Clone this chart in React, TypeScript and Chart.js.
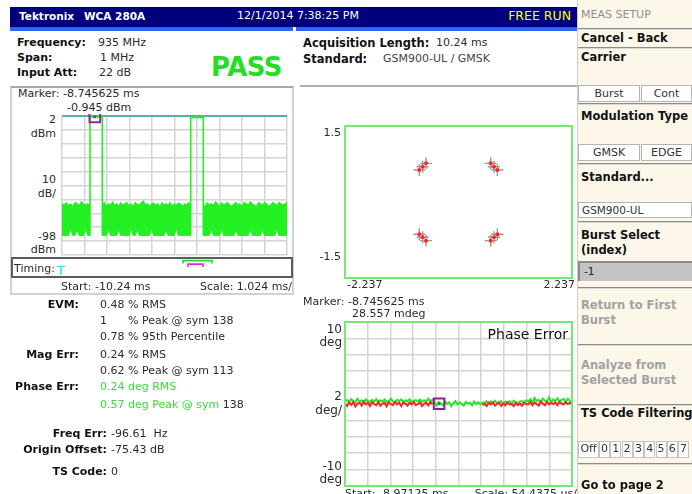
import React, { useEffect, useRef } from "react";
import { Chart, registerables } from "chart.js";

Chart.register(...registerables);

/* ---------------- data: power vs time (ms / dBm) ---------------- */
const powerTimeTicks = [-10.24, -9.216, -8.192, -7.168, -6.144, -5.12, -4.096, -3.072, -2.048, -1.024, 0];
const powerLevelTicks = [-98, -88, -78, -68, -58, -48, -38, -28, -18, -8, 2];
const powerAxisText = [["2", "dBm"], ["10", "dB/"], ["-98", "dBm"]];
const noiseStart = [-10.24, -8.406, -3.81];
const noiseEnd = [-8.966, -4.383, 0];
const noiseTop1 = [-61, -62, -60, -62.5, -61, -63, -60, -61, -62, -59.5, -61, -62, -61, -62];
const noiseTop2 = [-62, -60, -63, -61, -62, -59.5, -62, -61, -63, -60, -62, -61, -60, -62.5, -61, -63, -60, -61.5, -62, -60, -59, -62, -61, -63, -61, -60.5, -62, -61, -63, -60, -62, -61, -62, -60, -63, -61, -62, -60.5, -61, -63, -61, -62, -60, -62];
const noiseTop3 = [-61, -63, -60, -62, -61, -62, -59.5, -61, -63, -60, -62, -61, -60, -62, -63, -61, -60, -62, -61, -63, -60, -61, -62, -59.5, -61, -62, -63, -60, -61, -62, -60, -61, -63, -62, -60, -61, -62, -60, -61, -62, -61, -60];
const noiseLow1 = [-84, -84, -84, -84, -79, -84, -84, -80, -84, -84, -84, -79.5, -84, -84];
const noiseLow2 = [-84, -84, -84, -79, -84, -84, -84, -84, -80, -84, -84, -84, -84, -84, -79, -84, -84, -80, -84, -84, -84, -84, -84, -84, -79.5, -84, -84, -84, -84, -84, -84, -80, -84, -84, -84, -84, -79, -84, -84, -84, -84, -84, -84, -84];
const noiseLow3 = [-84, -84, -84, -84, -80, -84, -84, -84, -84, -79, -84, -84, -84, -84, -84, -84, -80, -84, -84, -84, -84, -84, -84, -79.5, -84, -84, -84, -84, -84, -80, -84, -84, -84, -84, -84, -84, -79, -84, -84, -84, -84, -84];
const burstStart = [-8.966, -4.383];
const burstEnd = [-8.406, -3.81];
const burstTop = [1.4, 1.0];
const burstFloor = [-84, -84];
const powerMarkerTime = [-8.745625];
const powerMarkerLevel = [1.4];

/* ---------------- data: timing strip ---------------- */
const timingGreen = [-4.733, -3.413];
const timingMagenta = [-4.506, -3.823];

/* ---------------- data: constellation ---------------- */
const constI = [-0.64, -0.706, -0.773, 0.635, 0.7, 0.766, -0.773, -0.706, -0.64, 0.635, 0.7, 0.766];
const constQ = [0.763, 0.697, 0.631, 0.763, 0.697, 0.631, -0.637, -0.696, -0.763, -0.763, -0.696, -0.637];
const constXRange = [-2.237, 2.237];
const constYRange = [-1.5, 1.5];

/* ---------------- data: phase error (ms / deg) ---------------- */
const phaseStart = -8.97125;
const phaseDiv = 0.0544375;
const phaseLevelTicks = [-10, -8, -6, -4, -2, 0, 2, 4, 6, 8, 10];
const phaseGreen = [
  0.3, 0.5, 0.2, 0.6, 0.35, 0.25, 0.65, 0.3, 0.45, 0.2,
  0.55, 0.35, 0.25, 0.5, 0.3, 0.6, 0.2, 0.45, 0.3, 0.55,
  0.25, 0.35, 0.65, 0.3, 0.2, 0.5, 0.35, 0.55, 0.25, 0.45,
  0.3, 0.6, 0.2, 0.35, 0.5, 0.3, 0.55, 0.25, 0.45, 0.3,
  0.65, 0.35, 0.5,
  0.15, -0.2, 0.25, 0.05, -0.15, 0.3, 0.0, 0.2, -0.25, 0.1, 0.35, -0.05, 0.2, 0.0, -0.2, 0.25, 0.05, 0.15, -0.15, 0.3, 0.0, 0.2, -0.05,
  0.2, 0.1, 0.35, 0.05, 0.3, 0.15, 0.4, 0.1, 0.25, 0.35, 0.0, 0.3, 0.15, 0.35, 0.1, 0.4, 0.2, 0.05, 0.3, 0.35, 0.15, 0.45,
  0.3, 0.6, 0.2, 0.75, 0.35, 0.5, 0.25, 0.65, 0.4, 0.3, 0.8, 0.2, 0.55, 0.35, 0.7, 0.3, 0.5, 0.6, 0.25, 0.65, 0.35, 0.2,
];
const phaseRed = [
  0.0, -0.25, 0.2, -0.1, 0.25, -0.3, 0.05, 0.15, -0.2, 0.3,
  -0.05, 0.15, -0.25, 0.2, 0.0, -0.15, 0.25, -0.2, 0.05, 0.15,
  -0.3, 0.2, 0.0, -0.15, 0.25, -0.05, 0.15, -0.25, 0.2, 0.05,
  -0.2, 0.15, -0.05, 0.25, -0.15, 0.0, 0.2, -0.25, 0.05, 0.15,
  -0.15, 0.25, 0.0,
  null, null, null, null, null, null, null, null, null, null, null, null, null, null, null, null, null, null, null, null, null, null, null,
  -0.15, 0.05, -0.25, 0.15, -0.05, 0.2, -0.2, 0.0, 0.15, -0.25, 0.05, -0.15, 0.2, -0.05, 0.0, -0.25, 0.15, -0.15, 0.05, -0.2, 0.15, 0.0,
  -0.05, 0.25, -0.15, 0.2, 0.0, -0.2, 0.3, 0.05, -0.15, 0.25, -0.05, 0.15, 0.0, 0.2, -0.15, 0.25, 0.05, -0.05, 0.2, 0.0, 0.15, -0.1,
];
const phaseMarkerTime = [-8.745625];
const phaseMarkerDeg = [0.028557];

/* ---------------- styling ---------------- */
const W = 692;
const H = 494;
const FONT = '"DejaVu Sans", "Liberation Sans", Arial, sans-serif';
const TRACE = "#22f022";
const GRID = "#d4d4d4";
const FRAME = "#74ea74";

type TxProps = {
  x: number;
  y: number;
  a?: "l" | "r" | "c";
  s?: number;
  w?: number;
  c?: string;
  ls?: number;
  children: React.ReactNode;
};
function Tx({ x, y, a = "l", s = 11, w = 400, c = "#2a2a2a", ls = 0, children }: TxProps) {
  const st: React.CSSProperties = {
    position: "absolute",
    top: y - 10,
    height: 20,
    lineHeight: "20px",
    fontSize: s,
    fontWeight: w,
    color: c,
    whiteSpace: "pre",
    letterSpacing: ls,
  };
  if (a === "l") st.left = x;
  else if (a === "r") st.right = W - x;
  else {
    st.left = x;
    st.transform = "translateX(-50%)";
  }
  return <div style={st}>{children}</div>;
}

function Box({ x, y, w, h, style }: { x: number; y: number; w: number; h: number; style?: React.CSSProperties }) {
  return <div style={{ position: "absolute", left: x, top: y, width: w, height: h, boxSizing: "border-box", ...style }} />;
}

const framePlugin = {
  id: "frame",
  afterDraw(chart: any, _a: any, opts: any) {
    if (!opts || !opts.color) return;
    const { ctx, chartArea: r } = chart;
    ctx.save();
    ctx.strokeStyle = opts.color;
    ctx.lineWidth = opts.width || 2;
    ctx.strokeRect(r.left, r.top, r.right - r.left, r.bottom - r.top);
    ctx.restore();
  },
};

function axis(min: number, max: number, ticks: number[] | null, grid: any) {
  return {
    type: "linear",
    min,
    max,
    afterBuildTicks: (s: any) => {
      if (ticks) s.ticks = ticks.map((v) => ({ value: v }));
    },
    ticks: { display: false },
    grid: grid ? { drawTicks: false, ...grid } : { display: false, drawTicks: false },
    border: { display: false },
  };
}

function baseOptions(pad: any, x: any, y: any, frame?: any) {
  return {
    responsive: false,
    animation: false,
    devicePixelRatio: 1,
    events: [],
    layout: { padding: pad, autoPadding: false },
    plugins: { legend: { display: false }, tooltip: { enabled: false }, frame: frame || {} },
    scales: { x, y },
  };
}

export default function App() {
  const powerRef = useRef<HTMLCanvasElement>(null);
  const timingRef = useRef<HTMLCanvasElement>(null);
  const constRef = useRef<HTMLCanvasElement>(null);
  const phaseRef = useRef<HTMLCanvasElement>(null);

  useEffect(() => {
    const charts: Chart[] = [];

    /* power vs time */
    const tops = [noiseTop1, noiseTop2, noiseTop3];
    const lows = [noiseLow1, noiseLow2, noiseLow3];
    const seg = (i: number, vals: number[]) =>
      vals.map((v, k) => ({ x: noiseStart[i] + ((noiseEnd[i] - noiseStart[i]) * k) / (vals.length - 1), y: v }));
    const pds: any[] = [];
    for (let i = 0; i < 3; i++) {
      pds.push({ data: seg(i, tops[i]), borderColor: TRACE, backgroundColor: TRACE, borderWidth: 1, pointRadius: 0, fill: "+1", order: 5 });
      pds.push({ data: seg(i, lows[i]), borderColor: TRACE, backgroundColor: TRACE, borderWidth: 1, pointRadius: 0, fill: false, order: 5 });
    }
    for (let b = 0; b < burstStart.length; b++) {
      pds.push({
        data: [
          { x: burstStart[b], y: burstFloor[b] },
          { x: burstStart[b], y: burstTop[b] },
          { x: burstEnd[b], y: burstTop[b] },
          { x: burstEnd[b], y: burstFloor[b] },
        ],
        borderColor: TRACE,
        borderWidth: 1.6,
        pointRadius: 0,
        fill: false,
        order: 4,
      });
    }
    const pm = powerMarkerTime.map((t, i) => ({ x: t, y: powerMarkerLevel[i] }));
    pds.push({ data: pm, showLine: false, pointStyle: "rect", pointRadius: 7.5, pointBorderColor: "#a21fa2", pointBorderWidth: 2, pointBackgroundColor: "rgba(0,0,0,0)", clip: false, order: 1 });
    pds.push({ data: pm, showLine: false, pointStyle: "circle", pointRadius: 1.6, pointBorderWidth: 0, pointBackgroundColor: "#2f6f7f", clip: false, order: 0 });

    charts.push(
      new Chart(powerRef.current!, {
        type: "line",
        data: { datasets: pds },
        options: baseOptions(
          { left: 2, right: 2, top: 2, bottom: 3 },
          axis(powerTimeTicks[0], powerTimeTicks[powerTimeTicks.length - 1], powerTimeTicks, { color: GRID, lineWidth: 1.5 }),
          axis(powerLevelTicks[0], powerLevelTicks[powerLevelTicks.length - 1], powerLevelTicks, {
            color: (c: any) => (c.tick && c.tick.value === 2 ? "#5aaeb0" : GRID),
            lineWidth: (c: any) => (c.tick && c.tick.value === 2 ? 2 : 1.5),
          })
        ) as any,
      })
    );

    /* timing strip */
    const bracket = (r: number[], lo: number, hi: number) => [
      { x: r[0], y: lo },
      { x: r[0], y: hi },
      { x: r[1], y: hi },
      { x: r[1], y: lo },
    ];
    charts.push(
      new Chart(timingRef.current!, {
        type: "line",
        data: {
          datasets: [
            { data: bracket(timingGreen, 7.1, 8.6), borderColor: "#22dd22", borderWidth: 1.6, pointRadius: 0, fill: false },
            { data: bracket(timingMagenta, 5.3, 6.8), borderColor: "#ee22ee", borderWidth: 1.6, pointRadius: 0, fill: false },
          ],
        },
        options: baseOptions(
          { left: 2, right: 2, top: 0, bottom: 0 },
          axis(powerTimeTicks[0], powerTimeTicks[powerTimeTicks.length - 1], null, null),
          axis(0, 10, null, null)
        ) as any,
      })
    );

    /* constellation */
    const cpts = constI.map((v, i) => ({ x: v, y: constQ[i] }));
    charts.push(
      new Chart(constRef.current!, {
        type: "scatter",
        data: {
          datasets: [
            { data: cpts, pointStyle: "circle", pointRadius: 2, pointBorderWidth: 0, pointBackgroundColor: "#ff2525", order: 1 },
            { data: cpts, pointStyle: "cross", pointRadius: 6, pointBorderWidth: 1.4, pointBorderColor: "#9a9a9a", order: 2 },
          ],
        },
        options: baseOptions(
          { left: 2, right: 2, top: 2, bottom: 2 },
          axis(constXRange[0], constXRange[1], null, null),
          axis(constYRange[0], constYRange[1], null, null),
          { color: FRAME, width: 2 }
        ) as any,
        plugins: [framePlugin as any],
      })
    );

    /* phase error */
    const phaseTimeTicks = Array.from({ length: 11 }, (_, i) => phaseStart + i * phaseDiv);
    const phaseEnd = phaseTimeTicks[10];
    const pstep = (phaseEnd - phaseStart) / (phaseGreen.length - 1);
    const gpts = phaseGreen.map((v, i) => ({ x: phaseStart + i * pstep, y: v }));
    const rpts = phaseRed.map((v, i) => ({ x: phaseStart + i * pstep, y: v }));
    const phm = phaseMarkerTime.map((t, i) => ({ x: t, y: phaseMarkerDeg[i] }));
    charts.push(
      new Chart(phaseRef.current!, {
        type: "line",
        data: {
          datasets: [
            { data: phm, showLine: false, pointStyle: "rect", pointRadius: 7.5, pointBorderColor: "#8c2090", pointBorderWidth: 2, pointBackgroundColor: "rgba(0,0,0,0)", clip: false, order: 0 },
            { data: phm, showLine: false, pointStyle: "circle", pointRadius: 1.4, pointBorderWidth: 0, pointBackgroundColor: "#2f6f7f", order: 0 },
            { data: rpts, borderColor: "#f02a2a", borderWidth: 2, pointRadius: 0, fill: false, spanGaps: false, order: 1 },
            { data: gpts, borderColor: "#2ae62a", borderWidth: 2, pointRadius: 0, fill: false, order: 2 },
          ],
        },
        options: baseOptions(
          { left: 2, right: 2, top: 2, bottom: 2 },
          axis(phaseStart, phaseEnd, phaseTimeTicks, { color: GRID, lineWidth: 1.5 }),
          axis(phaseLevelTicks[0], phaseLevelTicks[phaseLevelTicks.length - 1], phaseLevelTicks, { color: GRID, lineWidth: 1.5 }),
          { color: FRAME, width: 2 }
        ) as any,
        plugins: [framePlugin as any],
      })
    );

    return () => charts.forEach((c) => c.destroy());
  }, []);

  const sep = (y: number) => (
    <Box x={578} y={y} w={114} h={2} style={{ borderTop: "1px solid #8c8c8c", borderBottom: "1px solid #d8d8d8" }} />
  );
  const btn = (x: number, y: number, w: number, h: number, label: string, bg = "#fff") => (
    <React.Fragment key={label + x}>
      <Box x={x} y={y} w={w} h={h} style={{ background: bg, border: "1px solid #b4b4b4" }} />
      <Tx x={x + w / 2} y={y + h / 2} a="c" s={11} c="#333">
        {label}
      </Tx>
    </React.Fragment>
  );
  const tsCodes = ["Off", "0", "1", "2", "3", "4", "5", "6", "7"];

  return (
    <div style={{ position: "fixed", left: 0, top: 0, width: W, height: H, overflow: "hidden", background: "#fff", fontFamily: FONT }}>
      {/* header */}
      <Box x={10} y={7} w={567} h={20} style={{ background: "#00007c" }} />
      <Box x={10} y={27} w={283} h={4} style={{ background: "#2c63ff" }} />
      <Box x={296} y={27} w={281} h={4} style={{ background: "#2c63ff" }} />
      <Tx x={19} y={16} s={10.5} w={700} c="#fff">Tektronix</Tx>
      <Tx x={84} y={16} s={10.5} w={700} c="#fff">WCA 280A</Tx>
      <Tx x={237} y={16} s={11} c="#fff">12/1/2014 7:38:25 PM</Tx>
      <Tx x={571} y={16} a="r" s={12.5} c="#ffff00">FREE RUN</Tx>

      {/* top-left info */}
      <Tx x={17} y={43} w={700} c="#111">Frequency:</Tx>
      <Tx x={98} y={43}>935 MHz</Tx>
      <Tx x={17} y={58} w={700} c="#111">Span:</Tx>
      <Tx x={100} y={58}>1 MHz</Tx>
      <Tx x={17} y={73} w={700} c="#111">Input Att:</Tx>
      <Tx x={99} y={73}>22 dB</Tx>
      <Tx x={211} y={67} s={26} w={700} c="#26dd26" ls={-0.5}>PASS</Tx>

      {/* center info */}
      <Tx x={303} y={43} w={700} c="#111" s={11.5}>Acquisition Length:</Tx>
      <Tx x={436} y={43}>10.24 ms</Tx>
      <Tx x={303} y={59} w={700} c="#111" s={11.5}>Standard:</Tx>
      <Tx x={383} y={59} c="#444">GSM900-UL / GMSK</Tx>
      <Box x={300} y={85} w={277} h={2} style={{ background: "#b0b0b0" }} />

      {/* left panel */}
      <Box x={10} y={86} w={284} h={209} style={{ border: "2px solid #d2d2d2", borderTop: "2px solid #a8a8a8" }} />
      <Tx x={18} y={94}>Marker: -8.745625 ms</Tx>
      <Tx x={67} y={108}>-0.945 dBm</Tx>
      <Tx x={56} y={120} a="r">{powerAxisText[0][0]}</Tx>
      <Tx x={56} y={134} a="r">{powerAxisText[0][1]}</Tx>
      <Tx x={56} y={180} a="r">{powerAxisText[1][0]}</Tx>
      <Tx x={56} y={194} a="r">{powerAxisText[1][1]}</Tx>
      <Tx x={56} y={237} a="r">{powerAxisText[2][0]}</Tx>
      <Tx x={56} y={250} a="r">{powerAxisText[2][1]}</Tx>
      <canvas ref={powerRef} width={229} height={144} style={{ position: "absolute", left: 60, top: 114 }} />
      <Box x={11} y={257} w={282} h={21} style={{ border: "2px solid #5c5c5c" }} />
      <Tx x={14} y={269}>Timing:</Tx>
      <Tx x={57} y={271} s={13} c="#12e0ff">T</Tx>
      <canvas ref={timingRef} width={229} height={19} style={{ position: "absolute", left: 60, top: 258 }} />
      <Tx x={61} y={287}>Start: -10.24 ms</Tx>
      <Tx x={292} y={287} a="r">Scale: 1.024 ms/</Tx>

      {/* stats */}
      <Tx x={79} y={305} a="r" w={700} c="#111">EVM:</Tx>
      <Tx x={100} y={305}>0.48 % RMS</Tx>
      <Tx x={100} y={321}>{"1      % Peak @ sym 138"}</Tx>
      <Tx x={100} y={337}>0.78 % 95th Percentile</Tx>
      <Tx x={79} y={355} a="r" w={700} c="#111">Mag Err:</Tx>
      <Tx x={100} y={355}>0.24 % RMS</Tx>
      <Tx x={100} y={371}>0.62 % Peak @ sym 113</Tx>
      <Tx x={79} y={387} a="r" w={700} c="#111">Phase Err:</Tx>
      <Tx x={100} y={387} c="#38dc38">0.24 deg RMS</Tx>
      <Tx x={100} y={405} c="#38dc38">
        0.57 deg Peak @ sym <span style={{ color: "#2a2a2a" }}>138</span>
      </Tx>
      <Tx x={107} y={434} a="r" w={700} c="#111">Freq Err:</Tx>
      <Tx x={111} y={434}>-96.61  Hz</Tx>
      <Tx x={107} y={450} a="r" w={700} c="#111">Origin Offset:</Tx>
      <Tx x={111} y={450}>-75.43 dB</Tx>
      <Tx x={107} y={472} a="r" w={700} c="#111">TS Code:</Tx>
      <Tx x={111} y={472}>0</Tx>

      {/* constellation */}
      <canvas ref={constRef} width={231} height={156} style={{ position: "absolute", left: 343, top: 124 }} />
      <Tx x={341} y={133} a="r">1.5</Tx>
      <Tx x={341} y={257} a="r">-1.5</Tx>
      <Tx x={347} y={285}>-2.237</Tx>
      <Tx x={575} y={285} a="r">2.237</Tx>

      {/* phase error */}
      <Tx x={303} y={302}>Marker: -8.745625 ms</Tx>
      <Tx x={352} y={314}>28.557 mdeg</Tx>
      <canvas ref={phaseRef} width={231} height={168} style={{ position: "absolute", left: 343, top: 320 }} />
      <Tx x={342} y={329} a="r" s={12}>10</Tx>
      <Tx x={342} y={342} a="r" s={12}>deg</Tx>
      <Tx x={342} y={396} a="r" s={12}>2</Tx>
      <Tx x={342} y={410} a="r" s={12}>deg/</Tx>
      <Tx x={342} y={466} a="r" s={12}>-10</Tx>
      <Tx x={342} y={479} a="r" s={12}>deg</Tx>
      <Tx x={568} y={334} a="r" s={14} c="#111">Phase Error</Tx>
      <Tx x={345} y={494}>Start: -8.97125 ms</Tx>
      <Tx x={577} y={494} a="r">Scale: 54.4375 us/</Tx>

      {/* menu */}
      <Box x={578} y={0} w={114} h={H} style={{ background: "#fdf7ea" }} />
      <Box x={577} y={0} w={1} h={H} style={{ background: "#cfcfcf" }} />
      <Tx x={581} y={15} c="#8e8e8e">MEAS SETUP</Tx>
      {sep(28)}
      <Tx x={581} y={38} w={700} s={11.5} c="#111">Cancel - Back</Tx>
      {sep(47)}
      <Tx x={581} y={57} w={700} s={11.5} c="#111">Carrier</Tx>
      {btn(578, 85, 62, 17, "Burst")}
      {btn(641, 85, 51, 17, "Cont")}
      {sep(103)}
      <Tx x={581} y={116} w={700} s={11.5} c="#111">Modulation Type</Tx>
      {btn(578, 144, 62, 17, "GMSK")}
      {btn(641, 144, 51, 17, "EDGE")}
      {sep(163)}
      <Tx x={581} y={177} w={700} s={11.5} c="#111">Standard...</Tx>
      <Box x={578} y={202} w={114} h={16} style={{ background: "#fff", border: "1px solid #b4b4b4" }} />
      <Tx x={582} y={210} s={10.5} c="#333">GSM900-UL</Tx>
      {sep(221)}
      <Tx x={581} y={235} w={700} s={11.5} c="#111">Burst Select</Tx>
      <Tx x={581} y={250} w={700} s={11.5} c="#111">(index)</Tx>
      <Box x={578} y={261} w={114} h={20} style={{ background: "#c4c4c4", borderTop: "2px solid #8a8a8a", borderLeft: "2px solid #8a8a8a" }} />
      <Tx x={584} y={271} s={10.5} c="#222">-1</Tx>
      {sep(287)}
      <Tx x={581} y={305} w={700} s={11.5} c="#a2a2a2">Return to First</Tx>
      <Tx x={581} y={320} w={700} s={11.5} c="#a2a2a2">Burst</Tx>
      {sep(344)}
      <Tx x={581} y={365} w={700} s={11.5} c="#a2a2a2">Analyze from</Tx>
      <Tx x={581} y={380} w={700} s={11.5} c="#a2a2a2">Selected Burst</Tx>
      {sep(404)}
      <Tx x={581} y={413} w={700} s={11.5} c="#111">TS Code Filtering</Tx>
      {tsCodes.map((t, i) => {
        const x = i === 0 ? 578 : 599 + (i - 1) * 11.3;
        const w = i === 0 ? 21 : 11;
        return (
          <React.Fragment key={t}>
            <Box x={x} y={441} w={w} h={17} style={{ background: "#fff", border: "1px solid #c4c4c4" }} />
            <Tx x={x + w / 2} y={449} a="c" s={11} c="#333">{t}</Tx>
          </React.Fragment>
        );
      })}
      {sep(463)}
      <Tx x={581} y={485} w={700} s={11.5} c="#111">Go to page 2</Tx>
    </div>
  );
}
